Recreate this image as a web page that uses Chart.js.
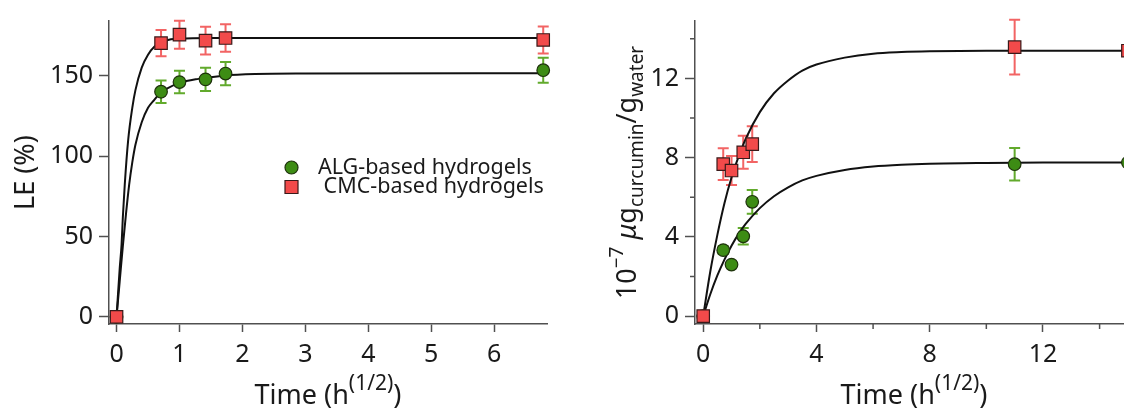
<!DOCTYPE html>
<html>
<head>
<meta charset="utf-8">
<script src="https://cdn.jsdelivr.net/npm/chart.js@4.4.1/dist/chart.umd.min.js"></script>
<style>
  html, body { margin: 0; padding: 0; background: #fff; overflow: hidden; width: 1124px; height: 408px; }
  #graficoLE { position: absolute; left: 0; top: 0; }
  #graficoCurcumina { position: absolute; left: 560px; top: 0; }
</style>
</head>
<body>
<canvas id="graficoLE" width="560" height="408"></canvas>
<canvas id="graficoCurcumina" width="620" height="408"></canvas>
<script>
// painel esquerdo: LE (%)
const tempoLE = [0, 0.707, 1, 1.414, 1.732, 6.78];
const leALG = [0, 140, 146, 147.7, 151.3, 153.4];
const erroLeALG = [0, 7, 7, 7.2, 7.2, 7.8];
const leCMC = [0, 170.2, 175.5, 171.8, 173.4, 172.2];
const erroLeCMC = [0, 8.2, 8.7, 8.6, 8.6, 8.4];

// curvas de ajuste
const tempoAjusteLeALG = [0, 0.05, 0.1, 0.15, 0.2, 0.25, 0.3, 0.4, 0.5, 0.6, 0.7, 0.8, 1.0, 1.3, 1.7, 2.2, 3, 6.84];
const ajusteLeALG = [0, 22, 44, 64, 82, 96, 107, 121, 130, 135, 139.5, 142, 145.5, 148, 150, 151, 151.3, 151.5];
const tempoAjusteLeCMC = [0, 0.05, 0.08, 0.1, 0.13, 0.185, 0.25, 0.3, 0.4, 0.5, 0.6, 0.8, 1, 1.5, 6.84];
const ajusteLeCMC = [0, 30, 45, 62, 82, 110, 130, 141, 155, 163, 168, 172, 173, 173.5, 173.5];

// painel direito: 10^-7 ug curcumin / g water
const tempoCur = [0, 0.707, 1, 1.414, 1.732, 11, 15];
const curALG = [0, 3.33, 2.6, 4.03, 5.77, 7.67, 7.75];
const erroCurALG = [0, 0.2, 0.1, 0.42, 0.6, 0.82, 0];
const curCMC = [0, 7.67, 7.35, 8.27, 8.68, 13.58, 13.4];
const erroCurCMC = [0, 0.8, 0.73, 0.83, 0.9, 1.38, 0];

const tempoAjusteCur = [0, 0.25, 0.5, 0.75, 1, 1.25, 1.5, 2, 2.5, 3, 3.5, 4, 5, 6, 7, 8, 10, 12, 14, 16];
const ajusteCurALG = [0, 1.1, 2.05, 2.85, 3.55, 4.15, 4.65, 5.45, 6.05, 6.5, 6.85, 7.08, 7.38, 7.55, 7.64, 7.69, 7.73, 7.75, 7.75, 7.75];
const ajusteCurCMC = [0, 2.25, 4.1, 5.7, 7.0, 8.05, 8.95, 10.3, 11.25, 11.9, 12.4, 12.7, 13.05, 13.25, 13.33, 13.37, 13.4, 13.4, 13.4, 13.4];

const rotulosSeries = ['ALG-based hydrogels', ' CMC-based hydrogels'];

const fonte = '"Noto Sans", "Liberation Sans", sans-serif';
const corEixo = '#505050';
const corTexto = '#1a1a1a';

function pares(xs, ys) {
  return xs.map((x, i) => ({x: x, y: ys[i]}));
}

function serieALG(xs, ys, erros) {
  return {
    label: rotulosSeries[0], data: pares(xs, ys), erros: erros, corErro: '#62aa2c',
    pointStyle: 'circle', pointRadius: 6.3, backgroundColor: '#3d8c14',
    borderColor: '#1e320c', borderWidth: 1.2, showLine: false, order: 1, clip: false
  };
}

function serieCMC(xs, ys, erros) {
  return {
    label: rotulosSeries[1], data: pares(xs, ys), erros: erros, corErro: '#f26464',
    pointStyle: 'rect', pointRadius: 8.8, backgroundColor: '#f24a4a',
    borderColor: '#3a1a1a', borderWidth: 1.2, showLine: false, order: 0, clip: false
  };
}

function curva(xs, ys) {
  return {
    data: pares(xs, ys), showLine: true, pointRadius: 0, borderColor: '#111',
    borderWidth: 2, cubicInterpolationMode: 'monotone', order: 2, fill: false
  };
}

function eixo(min, max, passo, tamanho, horizontal) {
  return {
    type: 'linear', min: min, max: max,
    ticks: {
      stepSize: passo, includeBounds: false, color: corTexto, autoSkip: false, maxRotation: 0,
      font: {family: fonte, size: 25}, padding: horizontal ? 8 : 6
    },
    grid: {drawOnChartArea: false, drawTicks: true, tickLength: horizontal ? 8 : 10, tickColor: corEixo, tickWidth: 1.5},
    border: {color: corEixo, width: 1.5},
    afterFit: (s) => { if (horizontal) s.height = tamanho; else s.width = tamanho; }
  };
}

const barrasDeErro = {
  id: 'barrasDeErro',
  beforeDatasetsDraw(chart) {
    const ctx = chart.ctx;
    const escalaY = chart.scales.y;
    chart.data.datasets.forEach((ds, i) => {
      if (!ds.erros) return;
      const meta = chart.getDatasetMeta(i);
      meta.data.forEach((pt, j) => {
        const e = ds.erros[j];
        if (!e) return;
        const v = ds.data[j].y;
        const topo = escalaY.getPixelForValue(v + e);
        const base = escalaY.getPixelForValue(v - e);
        ctx.save();
        ctx.strokeStyle = ds.corErro;
        ctx.lineWidth = 2;
        ctx.beginPath();
        ctx.moveTo(pt.x, topo); ctx.lineTo(pt.x, base);
        ctx.moveTo(pt.x - 5.5, topo); ctx.lineTo(pt.x + 5.5, topo);
        ctx.moveTo(pt.x - 5.5, base); ctx.lineTo(pt.x + 5.5, base);
        ctx.stroke();
        ctx.restore();
      });
    });
  }
};

function textoRico(ctx, partes, x, y, girar) {
  let total = 0;
  partes.forEach(p => {
    ctx.font = (p.it ? 'italic ' : '') + p.s + 'px ' + fonte;
    p.w = ctx.measureText(p.t).width;
    total += p.w;
  });
  ctx.save();
  ctx.translate(x, y);
  if (girar) ctx.rotate(-Math.PI / 2);
  ctx.fillStyle = corTexto;
  ctx.textAlign = 'left';
  ctx.textBaseline = 'alphabetic';
  let cx = -total / 2;
  partes.forEach(p => {
    ctx.font = (p.it ? 'italic ' : '') + p.s + 'px ' + fonte;
    ctx.fillText(p.t, cx, p.dy || 0);
    cx += p.w;
  });
  ctx.restore();
}

const tituloTempo = [{t: 'Time (h', s: 27}, {t: '(1/2)', s: 21, dy: -14}, {t: ')', s: 27}];

function pluginTitulos(tituloY, baseY) {
  return {
    id: 'titulos',
    afterDraw(chart) {
      const a = chart.chartArea;
      textoRico(chart.ctx, tituloTempo.map(p => Object.assign({}, p)), (a.left + a.right) / 2, 404, false);
      textoRico(chart.ctx, tituloY, baseY, (a.top + a.bottom) / 2, true);
    }
  };
}

function pluginMenores(xs, ys) {
  return {
    id: 'menores',
    afterDraw(chart) {
      const ctx = chart.ctx, a = chart.chartArea;
      ctx.save();
      ctx.strokeStyle = corEixo;
      ctx.lineWidth = 1.5;
      ctx.beginPath();
      xs.forEach(v => {
        const px = chart.scales.x.getPixelForValue(v);
        ctx.moveTo(px, a.bottom); ctx.lineTo(px, a.bottom + 5);
      });
      ys.forEach(v => {
        const py = chart.scales.y.getPixelForValue(v);
        ctx.moveTo(a.left, py); ctx.lineTo(a.left - 5, py);
      });
      ctx.stroke();
      ctx.restore();
    }
  };
}

const legendaInterna = {
  id: 'legendaInterna',
  afterDatasetsDraw(chart) {
    const ctx = chart.ctx, a = chart.chartArea;
    [0, 1].forEach(i => {
      const ds = chart.data.datasets[i];
      const x = a.left + 182.5, y = a.top + 146.5 + i * 19.5;
      ctx.save();
      ctx.fillStyle = ds.backgroundColor;
      ctx.strokeStyle = ds.borderColor;
      ctx.lineWidth = ds.borderWidth;
      ctx.beginPath();
      if (ds.pointStyle === 'circle') ctx.arc(x, y, 6.5, 0, Math.PI * 2);
      else ctx.rect(x - 6.5, y - 6.5, 13, 13);
      ctx.fill();
      ctx.stroke();
      ctx.fillStyle = corTexto;
      ctx.font = '21.5px ' + fonte;
      ctx.textBaseline = 'middle';
      ctx.fillText(ds.label, x + 26.5, y);
      ctx.restore();
    });
  }
};

const graficoLE = document.getElementById('graficoLE');
new Chart(graficoLE, {
  type: 'scatter',
  data: {
    datasets: [
      serieALG(tempoLE, leALG, erroLeALG),
      serieCMC(tempoLE, leCMC, erroLeCMC),
      curva(tempoAjusteLeALG, ajusteLeALG),
      curva(tempoAjusteLeCMC, ajusteLeCMC)
    ]
  },
  options: {
    responsive: false,
    animation: false,
    events: [],
    layout: {padding: {top: 17, right: 13, left: 0, bottom: 0}},
    scales: {
      x: eixo(-0.12, 6.84, 1, 84, true),
      y: eixo(-4.5, 184, 50, 109, false)
    },
    plugins: {legend: {display: false}, tooltip: {enabled: false}}
  },
  plugins: [barrasDeErro, legendaInterna, pluginTitulos([{t: 'LE (%)', s: 27}], 34)]
});

const graficoCurcumina = document.getElementById('graficoCurcumina');
new Chart(graficoCurcumina, {
  type: 'scatter',
  data: {
    datasets: [
      serieALG(tempoCur, curALG, erroCurALG),
      serieCMC(tempoCur, curCMC, erroCurCMC),
      curva(tempoAjusteCur, ajusteCurALG),
      curva(tempoAjusteCur, ajusteCurCMC)
    ]
  },
  options: {
    responsive: false,
    animation: false,
    events: [],
    layout: {padding: {top: 18, right: 47, left: 0, bottom: 0}},
    scales: {
      x: eixo(-0.29, 15.18, 4, 84, true),
      y: eixo(-0.4, 14.9, 4, 135, false)
    },
    plugins: {legend: {display: false}, tooltip: {enabled: false}}
  },
  plugins: [
    barrasDeErro,
    pluginMenores([2, 6, 10, 14], [2, 6, 10, 14]),
    pluginTitulos([
      {t: '10', s: 27}, {t: '\u22127', s: 19, dy: -13}, {t: ' ', s: 27},
      {t: '\u03bc', s: 27, it: true}, {t: 'g', s: 27}, {t: 'curcumin', s: 19, dy: 7},
      {t: '/g', s: 27}, {t: 'water', s: 19, dy: 7}
    ], 76)
  ]
});
</script>
</body>
</html>
